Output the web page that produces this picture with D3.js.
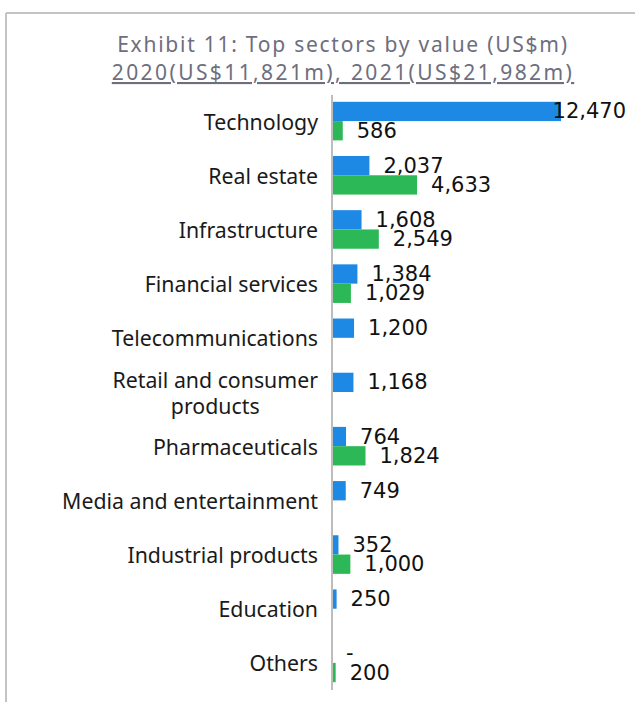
<!DOCTYPE html>
<html>
<head>
<meta charset="utf-8">
<script src="https://cdn.jsdelivr.net/npm/d3@7/dist/d3.min.js"></script>
<style>
  html, body { margin: 0; padding: 0; background: #fff; }
  svg { display: block; }
</style>
</head>
<body>
<svg id="chart" width="635" height="702"></svg>
<script>
// Sector deal values, US$m
const categories = [
  "Technology", "Real estate", "Infrastructure", "Financial services",
  "Telecommunications", "Retail and consumer products", "Pharmaceuticals",
  "Media and entertainment", "Industrial products", "Education", "Others"
];
const values2020 = [12470, 2037, 1608, 1384, 1200, 1168, 764, 749, 352, 250, 0];
const values2021 = [586, 4633, 2549, 1029, null, null, 1824, null, 1000, null, 200];
const seriesNames = ["2020", "2021"];
const seriesColors = ["#1e88e5", "#2db857"];
const titleLines = [
  "Exhibit 11: Top sectors by value (US$m)",
  "2020(US$11,821m), 2021(US$21,982m)"
];

const svg = d3.select("#chart");
const W = 635, H = 702;

// outer frame (top and left edges visible)
svg.append("line").attr("x1", 6).attr("x2", W).attr("y1", 13).attr("y2", 13)
  .attr("stroke", "#c4c4c4").attr("stroke-width", 2);
svg.append("line").attr("x1", 6).attr("x2", 6).attr("y1", 13).attr("y2", H)
  .attr("stroke", "#c4c4c4").attr("stroke-width", 2);

// title
const titleFont = "'Noto Sans', sans-serif";
svg.append("text")
  .attr("x", 343).attr("y", 52)
  .attr("text-anchor", "middle")
  .attr("font-family", titleFont).attr("font-size", 21)
  .attr("letter-spacing", 1.75)
  .attr("fill", "#6d6e7e")
  .text(titleLines[0]);
svg.append("text")
  .attr("x", 343).attr("y", 80)
  .attr("text-anchor", "middle")
  .attr("font-family", titleFont).attr("font-size", 21)
  .attr("letter-spacing", 2.4)
  .attr("fill", "#6d6e7e")
  .attr("text-decoration", "underline")
  .text(titleLines[1]);

// scales
const x = d3.scaleLinear().domain([0, 12470]).range([332, 561]);
const y = d3.scaleBand().domain(categories).range([94, 690])
  .paddingInner(0.288).paddingOuter(0.144);
const sub2 = d3.scaleBand().domain(seriesNames).range([0, y.bandwidth()]);

const rows = categories.map((c, i) => ({ cat: c, vals: [values2020[i], values2021[i]] }));

// bars
const g = svg.append("g");
rows.forEach(r => {
  r.vals.forEach((v, si) => {
    if (v === null) return;
    g.append("rect")
      .attr("x", x(0))
      .attr("y", y(r.cat) + sub2(seriesNames[si]))
      .attr("width", x(v) - x(0))
      .attr("height", sub2.bandwidth())
      .attr("fill", seriesColors[si]);
  });
});

// value labels
const fmt = d3.format(",");
const labelFont = "'DejaVu Sans', Verdana, sans-serif";
rows.forEach(r => {
  r.vals.forEach((v, si) => {
    if (v === null) return;
    const t = svg.append("text")
      .attr("y", y(r.cat) + sub2(seriesNames[si]) + sub2.bandwidth() / 2)
      .attr("dominant-baseline", "central")
      .attr("font-family", labelFont).attr("font-size", 21)
      .attr("fill", "#111")
      .text(v === 0 ? "-" : fmt(v));
    let lx = x(v) + 14;
    const w = t.node().getComputedTextLength();
    if (lx + w > 626) lx = 626 - w;
    t.attr("x", lx);
  });
});

// vertical axis line
svg.append("line").attr("x1", x(0)).attr("x2", x(0)).attr("y1", 95).attr("y2", 690)
  .attr("stroke", "#bdbdbd").attr("stroke-width", 2);

// category labels (long names wrap onto two centered lines)
const catFont = "'Noto Sans', sans-serif";
const catSize = 21.3;
const wrapped = { "Retail and consumer products": ["Retail and consumer", "products"] };
categories.forEach(c => {
  const cy = y(c) + y.bandwidth() / 2;
  if (wrapped[c]) {
    const lines = wrapped[c];
    const t0 = svg.append("text")
      .attr("font-family", catFont).attr("font-size", catSize).attr("fill", "#1a1a1a")
      .attr("text-anchor", "end").attr("x", 318)
      .attr("y", cy - 13).attr("dominant-baseline", "central")
      .text(lines[0]);
    const w0 = t0.node().getComputedTextLength();
    svg.append("text")
      .attr("font-family", catFont).attr("font-size", catSize).attr("fill", "#1a1a1a")
      .attr("text-anchor", "middle").attr("x", 318 - w0 / 2)
      .attr("y", cy + 13).attr("dominant-baseline", "central")
      .text(lines[1]);
  } else {
    svg.append("text")
      .attr("font-family", catFont).attr("font-size", catSize).attr("fill", "#1a1a1a")
      .attr("text-anchor", "end").attr("x", 318)
      .attr("y", cy).attr("dominant-baseline", "central")
      .text(c);
  }
});
</script>
</body>
</html>
